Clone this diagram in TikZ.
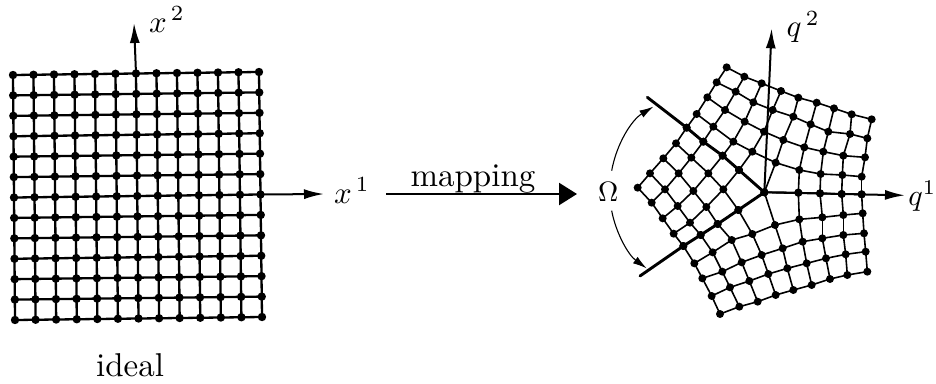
\documentclass[tikz,border=0pt]{standalone}
\usetikzlibrary{arrows.meta}
\tikzset{
  dotl/.style={circle,fill=black,inner sep=0pt,minimum size=8.4pt},
  dotr/.style={circle,fill=black,inner sep=0pt,minimum size=8pt},
  gridl/.style={line width=2.3pt},
  gridr/.style={line width=1.6pt},
  thickbound/.style={line width=2.9pt,line cap=round},
  axis/.style={line width=2pt,-{Latex[length=20pt,width=10pt]}},
  bigarrow/.style={line width=2.4pt,-{Triangle[length=18pt,width=22pt]}},
  omegaarc/.style={line width=1.1pt,-{Latex[length=14pt,width=8pt]}},
  lab/.style={scale=3.1,inner sep=0pt,outer sep=0pt},
  labq/.style={scale=3,inner sep=0pt,outer sep=0pt},
  labt/.style={scale=3.3,inner sep=0pt,outer sep=0pt},
  labo/.style={scale=2.8,inner sep=0pt,outer sep=0pt}
}
\newcommand{\gridrow}[3]{%
  \foreach \qx/\qy [count=\qi from 0] in {#3}{
    \node[dotr] (#1-\qi-#2) at (\qx,\qy) {};
  }%
}
\begin{document}
\begin{tikzpicture}[x=1pt,y=-1pt]
\useasboundingbox (0,0) rectangle (936,383);
% ---- ideal grid
\foreach \i in {0,...,12}{
  \foreach \j in {0,...,12}{
    \pgfmathsetmacro{\u}{\i/12}
    \pgfmathsetmacro{\v}{\j/12}
    \pgfmathsetmacro{\px}{13+246*\u+\v*(2+\u)}
    \pgfmathsetmacro{\py}{75-3*\u+245*\v}
    \node[dotl] (I-\i-\j) at (\px,\py) {};
  }
}
\foreach \i in {0,...,12}{
  \foreach \j [count=\k from 1] in {0,...,11}{
    \draw[gridl] (I-\i-\j.center) -- (I-\i-\k.center);
    \draw[gridl] (I-\j-\i.center) -- (I-\k-\i.center);
  }
}
\coordinate (xtwo) at (134,23);
\coordinate (xone) at (324,194);
\draw[axis] (I-6-0.center) -- (xtwo);
\draw[axis] (I-12-6.center) -- (xone);
\node[lab,anchor=base west] (labxtwo) at (149,32) {$x^{\,2}$};
\node[lab,anchor=base west] (labxone) at (334,203) {$x^{\,1}$};
\node[labt,anchor=base] (labideal) at (130,376) {ideal};
% ---- mapping arrow
\coordinate (mapa) at (386,194);
\coordinate (mapb) at (577,194);
\draw[bigarrow] (mapa) -- (mapb);
\node[labt,anchor=base] (labmap) at (473,186) {mapping};
% ---- physical grid (coordinates read at 3x, offset 590,10)
\begin{scope}[shift={(590,10)},x=0.33333pt,y=-0.33333pt]
\gridrow{T}{0}{410/172,463/200,515/220,573/243,625/263,680/278,732/295,785/313,845/328}
\gridrow{T}{1}{380/217,437/245,490/277,548/300,610/320,662/343,715/365,780/372,832/385}
\gridrow{T}{2}{352/262,405/300,464/335,522/365,580/390,643/412,700/425,760/437,825/442}
\gridrow{T}{3}{320/312,370/350,430/395,487/425,557/458,628/480,692/492,757/495,815/500}
\gridrow{T}{4}{290/353,340/395,398/437,447/480,523/547,625/548,690/550,755/552,815/553}
\gridrow{B}{0}{280/708,332/675,383/642,445/600,523/547,625/548,690/550,755/552,815/553}
\gridrow{B}{1}{313/760,368/727,425/690,487/672,555/645,628/628,697/622,760/615,818/610}
\gridrow{B}{2}{337/805,397/785,455/757,515/735,578/715,638/695,697/685,760/675,822/670}
\gridrow{B}{3}{365/858,420/832,478/813,535/792,592/775,650/760,708/745,767/733,827/725}
\gridrow{B}{4}{390/912,448/890,503/875,557/855,610/840,665/825,720/807,772/795,832/785}
\gridrow{L}{0}{143/533,180/490,220/445,258/400,290/353}
\gridrow{L}{1}{185/578,225/538,266/490,304/443,340/395}
\gridrow{L}{2}{218/625,263/588,310/543,355/490,398/437}
\gridrow{L}{3}{251/671,300/638,349/591,400/538,447/480}
\gridrow{L}{4}{280/708,332/675,383/642,445/600,523/547}
% long patches
\foreach \pt in {T,B}{
  \foreach \j in {0,...,4}{
    \foreach \i [count=\k from 1] in {0,...,7}{
      \draw[gridr] (\pt-\i-\j.center) -- (\pt-\k-\j.center);
    }
  }
  \foreach \i in {0,...,8}{
    \foreach \j [count=\k from 1] in {0,...,3}{
      \draw[gridr] (\pt-\i-\j.center) -- (\pt-\i-\k.center);
    }
  }
}
% square patch
\foreach \a in {0,...,4}{
  \foreach \b [count=\k from 1] in {0,...,3}{
    \draw[gridr] (L-\b-\a.center) -- (L-\k-\a.center);
    \draw[gridr] (L-\a-\b.center) -- (L-\a-\k.center);
  }
}
% thick boundaries
\coordinate (bu) at (172,262);
\coordinate (bl) at (150,798);
\draw[thickbound] (bu) -- (L-4-0.center) -- (L-4-1.center) -- (L-4-2.center) -- (L-4-3.center) -- (L-4-4.center) -- (L-3-4.center) -- (L-2-4.center) -- (L-1-4.center) -- (L-0-4.center) -- (bl);
% axes
\coordinate (qtwo) at (545,55);
\coordinate (qone) at (945,556);
\draw[axis] (L-4-4.center) -- (qtwo);
\draw[axis] (L-4-4.center) -- (qone);
\node[lab,anchor=base west] (labqtwo) at (590,80) {$q^{\,2}$};
\node[labq,anchor=base west] (labqone) at (955,585) {$q^{1}$};
% Omega
\node[labo] (labom) at (55,547) {$\Omega$};
\coordinate (ou) at (65,482);
\coordinate (oue) at (190,290);
\coordinate (ol) at (65,602);
\coordinate (ole) at (170,775);
\draw[omegaarc] (ou) .. controls (80,400) and (125,330) .. (oue);
\draw[omegaarc] (ol) .. controls (78,670) and (115,735) .. (ole);
\end{scope}
\end{tikzpicture}
\end{document}
